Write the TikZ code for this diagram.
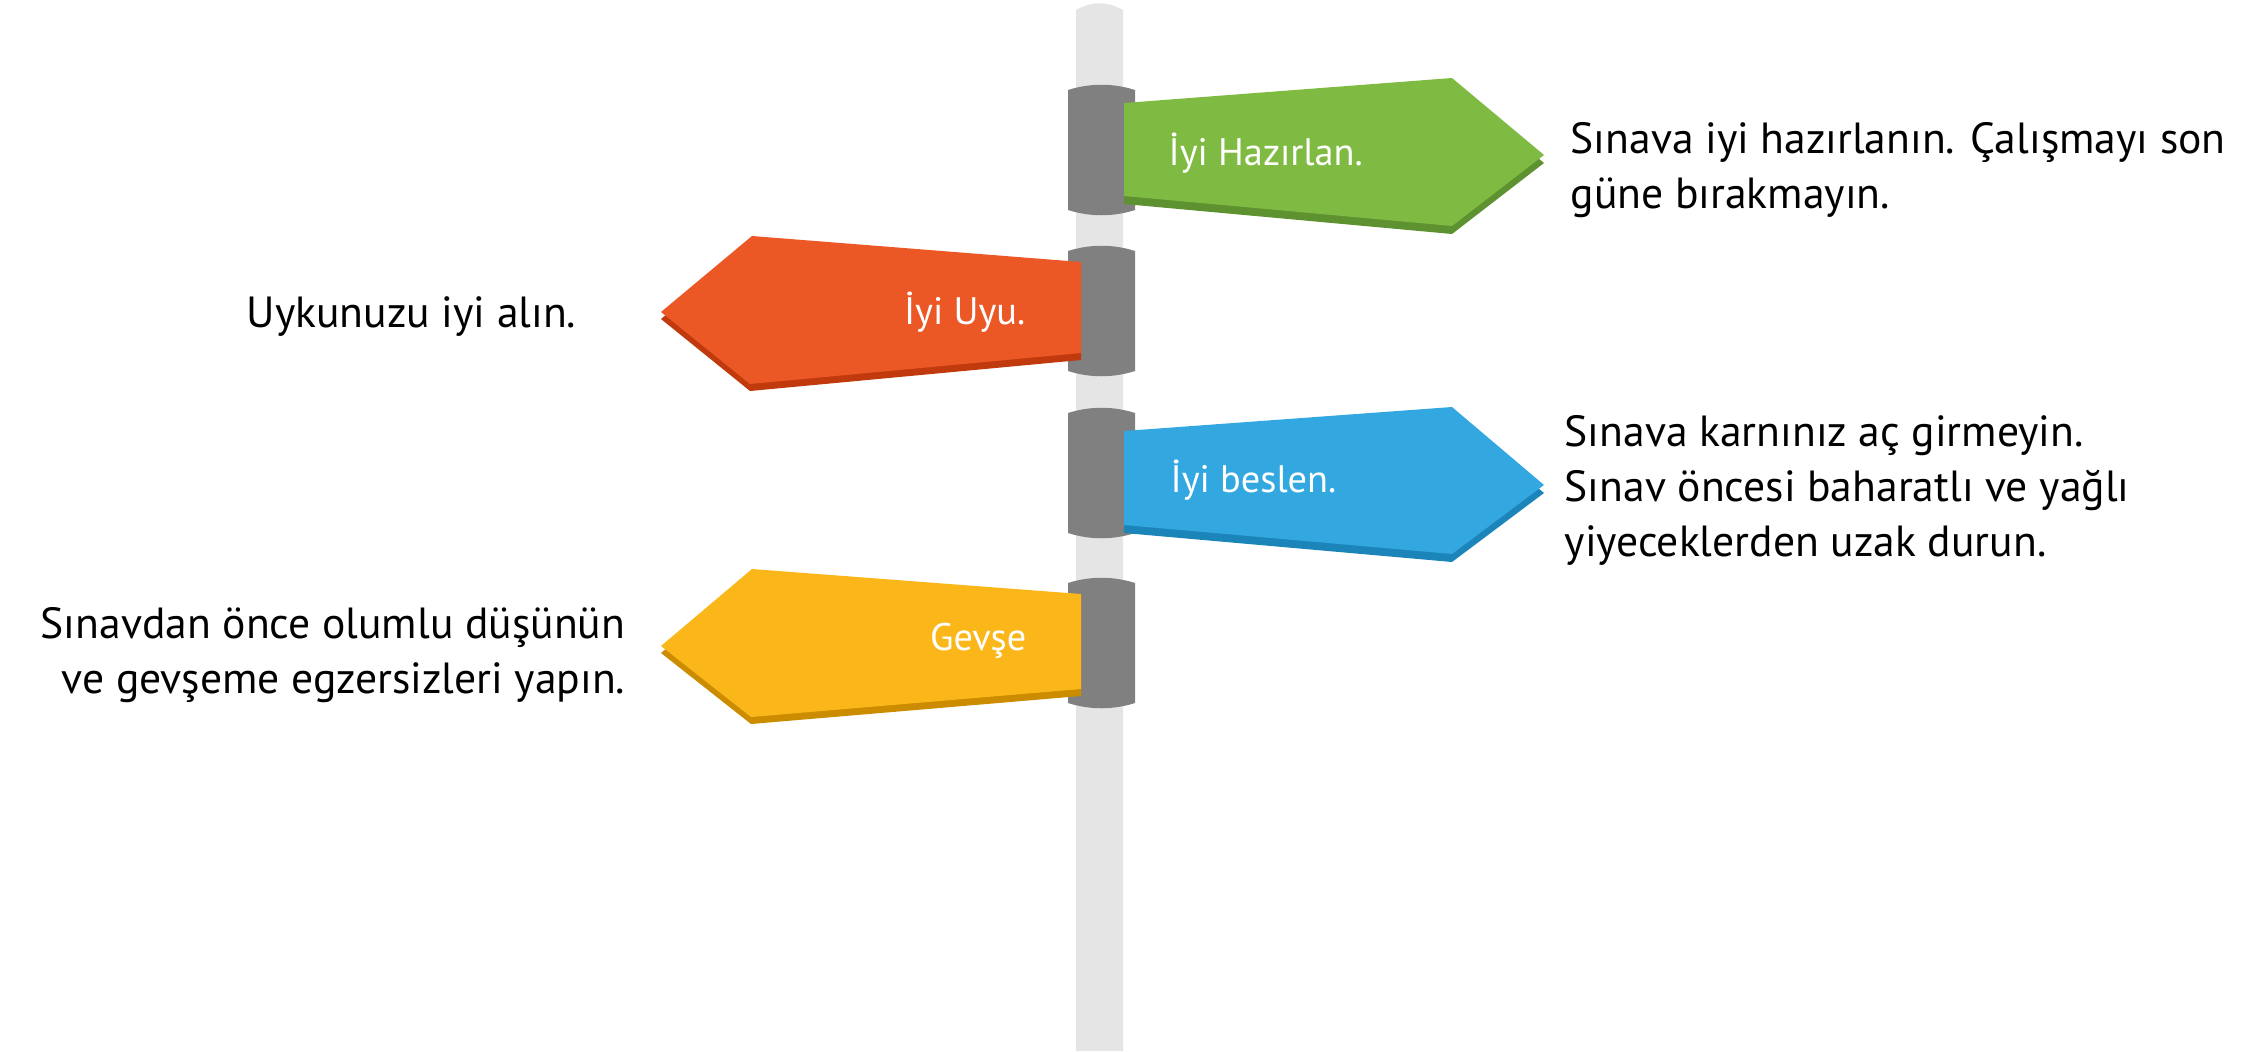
\documentclass[tikz,border=0pt]{standalone}
\usepackage{fontspec}
\setmainfont{PT Sans}

\definecolor{poleGray}{HTML}{E5E5E5}
\definecolor{collarGray}{HTML}{808080}
\definecolor{prepGreen}{HTML}{7FBB42}
\definecolor{prepGreenDark}{HTML}{5E9130}
\definecolor{sleepOrange}{HTML}{EC5726}
\definecolor{sleepOrangeDark}{HTML}{C03A0E}
\definecolor{eatBlue}{HTML}{33A8E0}
\definecolor{eatBlueDark}{HTML}{1B84B8}
\definecolor{relaxYellow}{HTML}{FBB71A}
\definecolor{relaxYellowDark}{HTML}{CC8C00}

\begin{document}
\begin{tikzpicture}[
    x=0.01cm, y=-0.01cm,
    % Styles
    pole/.style={fill=poleGray},
    collar/.style={fill=collarGray},
    signtext/.style={text=white, inner sep=0pt, font=\fontsize{10.9}{13}\selectfont},
    advice/.style={text=black, inner sep=0pt, font=\fontsize{12.4}{15.6}\selectfont},
]
\useasboundingbox (0,0) rectangle (2260,1051);

% Pole
\fill[pole] (1076,1051) -- (1076,10) .. controls (1092,1) and (1107,1) .. (1123,10) -- (1123,1051) -- cycle;

% Collars
\foreach \top in {90,251,413,583} {
    \fill[collar] (1068,\top) .. controls (1090,\top-7) and (1113,\top-7) .. (1135,\top)
        -- (1135,\top+120) .. controls (1113,\top+127) and (1090,\top+127) .. (1068,\top+120) -- cycle;
}

% Sign 1: prepare (right)
\fill[prepGreenDark, shift={(0,8)}] (1124,103) -- (1452,78) -- (1544,155) -- (1452,226) -- (1124,196) -- cycle;
\fill[prepGreen] (1124,103) -- (1452,78) -- (1544,155) -- (1452,226) -- (1124,196) -- cycle;
\node[signtext, anchor=base west] (prepare) at (1168,165) {İyi Hazırlan.};

% Sign 2: sleep (left)
\fill[sleepOrangeDark, shift={(0,7)}] (1081,262) -- (752,236) -- (661,312) -- (750,384) -- (1081,353) -- cycle;
\fill[sleepOrange] (1081,262) -- (752,236) -- (661,312) -- (750,384) -- (1081,353) -- cycle;
\node[signtext, anchor=base east] (sleep) at (1026,324) {İyi Uyu.};

% Sign 3: eat (right)
\fill[eatBlueDark, shift={(0,8)}] (1124,431) -- (1452,407) -- (1544,485) -- (1452,554) -- (1124,525) -- cycle;
\fill[eatBlue] (1124,431) -- (1452,407) -- (1544,485) -- (1452,554) -- (1124,525) -- cycle;
\node[signtext, anchor=base west] (eat) at (1170,492) {İyi beslen.};

% Sign 4: relax (left)
\fill[relaxYellowDark, shift={(0,7)}] (1081,594) -- (752,569) -- (661,646) -- (751,717) -- (1081,689) -- cycle;
\fill[relaxYellow] (1081,594) -- (752,569) -- (661,646) -- (751,717) -- (1081,689) -- cycle;
\node[signtext, anchor=base east] (relax) at (1027,650) {Gevşe};

% Advice texts (base = last line)
\node[advice, anchor=base west, align=left] (prepare-note) at (1570,208)
    {Sınava iyi hazırlanın. Çalışmayı son\\güne bırakmayın.};
\node[advice, anchor=base east, align=right] (sleep-note) at (577,327)
    {Uykunuzu iyi alın.};
\node[advice, anchor=base west, align=left] (eat-note) at (1564,556)
    {Sınava karnınız aç girmeyin.\\Sınav öncesi baharatlı ve yağlı\\yiyeceklerden uzak durun.};
\node[advice, anchor=base east, align=right] (relax-note) at (626,693)
    {Sınavdan önce olumlu düşünün\\ve gevşeme egzersizleri yapın.};

\end{tikzpicture}
\end{document}
